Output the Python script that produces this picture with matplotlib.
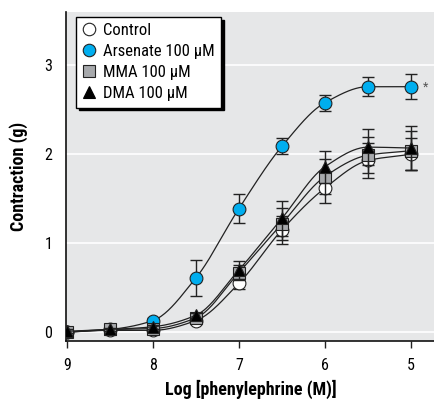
import numpy as np
import matplotlib
matplotlib.use("Agg")
import matplotlib.pyplot as plt
from matplotlib.lines import Line2D

plt.rcParams['font.family'] = ['Roboto Condensed', 'DejaVu Sans']

# -log[phenylephrine (M)]
log_conc = [9, 8.5, 8, 7.5, 7, 6.5, 6, 5.5, 5]

control = [0.00, 0.02, 0.02, 0.13, 0.55, 1.15, 1.62, 1.93, 2.00]
control_err = [0.02, 0.02, 0.02, 0.03, 0.07, 0.16, 0.17, 0.20, 0.18]

arsenate = [0.00, 0.03, 0.13, 0.61, 1.39, 2.09, 2.58, 2.76, 2.76]
arsenate_err = [0.02, 0.02, 0.03, 0.20, 0.16, 0.09, 0.09, 0.11, 0.14]

mma = [0.00, 0.03, 0.04, 0.16, 0.67, 1.22, 1.75, 1.99, 2.04]
mma_err = [0.02, 0.02, 0.02, 0.03, 0.08, 0.18, 0.20, 0.20, 0.22]

dma = [0.01, 0.03, 0.06, 0.19, 0.70, 1.28, 1.86, 2.08, 2.07]
dma_err = [0.02, 0.02, 0.02, 0.03, 0.10, 0.20, 0.18, 0.20, 0.25]

labels = ['Control', 'Arsenate 100 \u03bcM', 'MMA 100 \u03bcM', 'DMA 100 \u03bcM']
x_ticks = [9, 8, 7, 6, 5]
y_ticks = [0, 1, 2, 3]


def pchip(x, y, xs):
    """Monotone piecewise cubic Hermite interpolation."""
    x = np.asarray(x, float)
    y = np.asarray(y, float)
    order = np.argsort(x)
    x, y = x[order], y[order]
    h = np.diff(x)
    d = np.diff(y) / h
    n = len(x)
    m = np.zeros(n)
    for k in range(1, n - 1):
        if d[k - 1] * d[k] <= 0:
            m[k] = 0.0
        else:
            w1 = 2 * h[k] + h[k - 1]
            w2 = h[k] + 2 * h[k - 1]
            m[k] = (w1 + w2) / (w1 / d[k - 1] + w2 / d[k])
    m[0] = d[0]
    m[-1] = d[-1]
    xs = np.asarray(xs, float)
    idx = np.clip(np.searchsorted(x, xs) - 1, 0, n - 2)
    t = (xs - x[idx]) / h[idx]
    h00 = 2 * t**3 - 3 * t**2 + 1
    h10 = t**3 - 2 * t**2 + t
    h01 = -2 * t**3 + 3 * t**2
    h11 = t**3 - t**2
    return (h00 * y[idx] + h10 * h[idx] * m[idx]
            + h01 * y[idx + 1] + h11 * h[idx] * m[idx + 1])


fig = plt.figure(figsize=(4.35, 4.0), dpi=100)
ax = fig.add_axes([0.152, 0.1475, 0.848, 0.8225])
ax.set_facecolor('#e6e7e8')

xs = np.linspace(5, 9, 300)

series = [
    (arsenate, arsenate_err, 'o', '#00aeef', 9.2),
    (control, control_err, 'o', 'white', 9.2),
    (mma, mma_err, 's', '#a7a9ac', 8.3),
    (dma, dma_err, '^', 'black', 8.3),
]

for i, (vals, err, mk, fc, ms) in enumerate(series):
    z = 3 + i
    ax.plot(xs, pchip(log_conc, vals, xs), color='#222222', lw=0.9, zorder=z)
    ax.errorbar(log_conc, vals, yerr=err, fmt='none', ecolor='#222222',
                elinewidth=1.0, capsize=4, capthick=1.0, zorder=z)
    ax.plot(log_conc, vals, linestyle='none', marker=mk, markersize=ms,
            markerfacecolor=fc, markeredgecolor='#222222',
            markeredgewidth=0.8, zorder=z + 0.5)

ax.text(4.86, arsenate[-1], '*', fontsize=9, color='#555555',
        va='center', ha='left')

ax.set_xlim(9.01, 4.72)
ax.set_ylim(-0.1, 3.6)
ax.set_xticks(x_ticks)
ax.set_xticklabels([str(v) for v in x_ticks])
ax.set_yticks(y_ticks)
ax.set_yticklabels([str(v) for v in y_ticks])
ax.tick_params(axis='x', direction='out', length=5, width=1, labelsize=11.5,
               color='#222222', pad=7)
ax.tick_params(axis='y', length=0, labelsize=11.5, pad=10)
ax.yaxis.grid(True, color='white', lw=1.2)
ax.set_axisbelow(True)

for s in ['top', 'right']:
    ax.spines[s].set_visible(False)
ax.spines['left'].set_linewidth(1.2)
ax.spines['bottom'].set_linewidth(1.2)
ax.spines['left'].set_color('#111111')
ax.spines['bottom'].set_color('#111111')

ax.set_xlabel('Log [phenylephrine (M)]', fontsize=13, fontweight='bold')
ax.xaxis.set_label_coords(0.5, -0.118)
ax.set_ylabel('Contraction (g)', fontsize=13, fontweight='bold', labelpad=12)

handles = [
    Line2D([], [], linestyle='none', marker='o', markersize=9,
           markerfacecolor='white', markeredgecolor='#222222', markeredgewidth=0.8),
    Line2D([], [], linestyle='none', marker='o', markersize=9,
           markerfacecolor='#00aeef', markeredgecolor='#222222', markeredgewidth=0.8),
    Line2D([], [], linestyle='none', marker='s', markersize=8.5,
           markerfacecolor='#a7a9ac', markeredgecolor='#222222', markeredgewidth=0.8),
    Line2D([], [], linestyle='none', marker='^', markersize=8.5,
           markerfacecolor='black', markeredgecolor='black', markeredgewidth=0.8),
]
leg = ax.legend(handles, labels, loc='upper left',
                bbox_to_anchor=(0.027, 0.985), borderaxespad=0,
                frameon=True, fancybox=False, framealpha=1,
                edgecolor='black', facecolor='white',
                shadow={'color': 'black', 'alpha': 1},
                fontsize=12, handlelength=0.8, handletextpad=0.45,
                labelspacing=0.36, borderpad=0.38)
leg.get_frame().set_linewidth(1.0)
leg.set_zorder(10)

fig.savefig('out.png', dpi=100)
